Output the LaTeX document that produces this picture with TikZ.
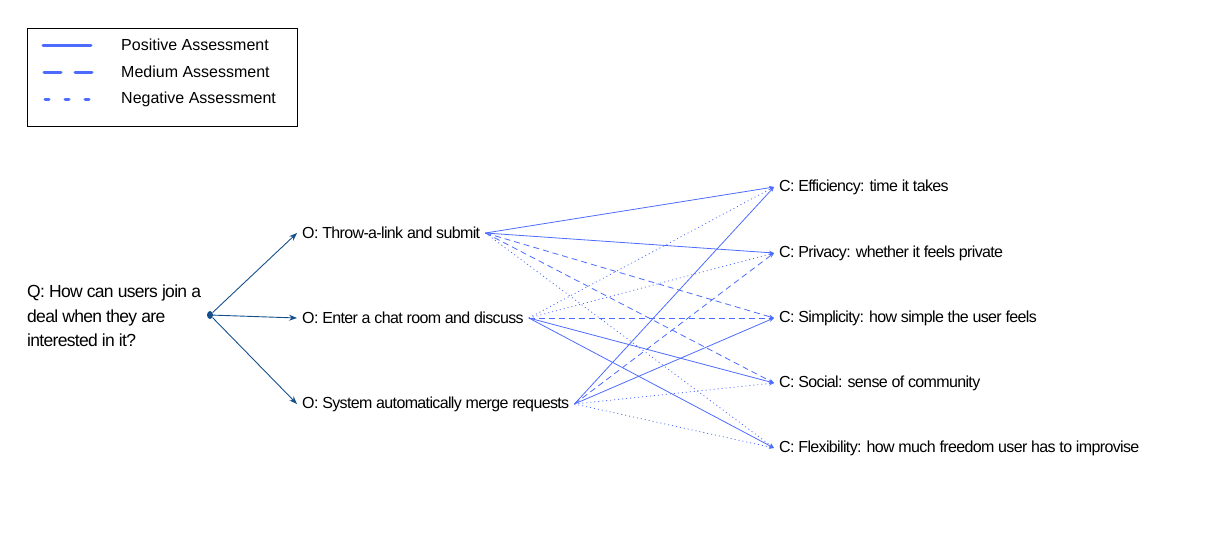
\documentclass[tikz,border=0pt]{standalone}
\usepackage{fontspec}
\setmainfont{Liberation Sans}
\newfontfamily\tightfont[LetterSpace=-4]{Liberation Sans}
\usetikzlibrary{arrows.meta, shapes.geometric}
\definecolor{linkblue}{RGB}{77,107,254}
\definecolor{navyblue}{RGB}{22,80,140}

\begin{document}
\begin{tikzpicture}[x=1pt, y=-1pt,
  label text/.style={anchor=west, inner xsep=5pt, inner ysep=2pt, font=\tightfont\fontsize{16}{24.5}\selectfont},
  key text/.style={anchor=west, inner sep=0pt, font=\fontsize{16}{18}\selectfont},
  key line/.style={linkblue, line width=3pt, line cap=round},
  link/.style={linkblue, line width=0.8pt, -{Stealth[open, length=5pt, width=4pt]}},
  goodlink/.style={link},
  midlink/.style={link, dash pattern=on 6pt off 4pt},
  badlink/.style={link, dash pattern=on 1pt off 3pt},
  branch/.style={navyblue, line width=0.9pt, -{Stealth[length=8pt, width=6pt]}}]
\useasboundingbox (0,0) rectangle (1209,536);

\draw[black, line width=0.8pt] (27,28) rectangle (297,126);
\draw[key line] (43,45) -- (91,45);
\draw[key line, dash pattern=on 17pt off 14pt] (44,72) -- (94,72);
\draw[key line, dash pattern=on 4pt off 16pt] (45,99) -- (94,99);
\node[key text] (keygood) at (121,45) {Positive Assessment};
\node[key text] (keymid) at (121,72) {Medium Assessment};
\node[key text] (keybad) at (121,99) {Negative Assessment};

\node[label text, inner xsep=0pt, align=left, font=\tightfont\fontsize{17.5}{24.5}\selectfont] (q) at (27,316) {Q: How can users join a\\deal when they are\\interested in it?};
\node[navyblue, fill, ellipse, inner sep=0pt, minimum width=6pt, minimum height=8pt] (hub) at (210,315) {};

\node[label text] (o1) at (297,233) {O: Throw-a-link and submit};
\node[label text] (o2) at (297,318) {O: Enter a chat room and discuss};
\node[label text] (o3) at (297,404) {O: System automatically merge requests};

\node[label text] (c1) at (774,187) {C: Efficiency: time it takes};
\node[label text] (c2) at (774,253) {C: Privacy: whether it feels private};
\node[label text] (c3) at (774,318) {C: Simplicity: how simple the user feels};
\node[label text] (c4) at (774,383) {C: Social: sense of community};
\node[label text] (c5) at (774,448) {C: Flexibility: how much freedom user has to improvise};

\foreach \o in {o1,o2,o3}
  \draw[branch] (hub) -- (\o.west);

\foreach \o/\c/\s in {o1/c1/goodlink, o1/c2/goodlink, o1/c3/midlink, o1/c4/midlink, o1/c5/badlink,
                      o2/c1/badlink, o2/c2/badlink, o2/c3/midlink, o2/c4/goodlink, o2/c5/goodlink,
                      o3/c1/goodlink, o3/c2/midlink, o3/c3/goodlink, o3/c4/badlink, o3/c5/badlink}
  \draw[\s] (\o.east) -- (\c.west);
\end{tikzpicture}
\end{document}
